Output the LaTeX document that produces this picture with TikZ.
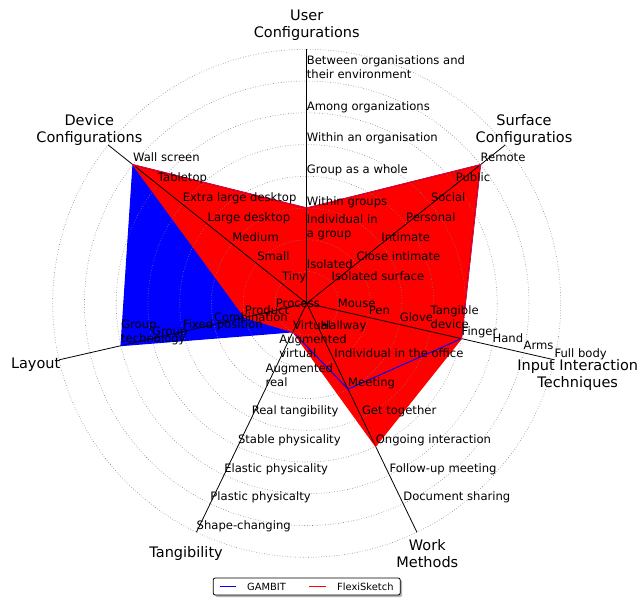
\documentclass[tikz,border=0pt]{standalone}
\usepackage{fontspec}
\setmainfont{DejaVu Sans}
\usetikzlibrary{shadows}

\begin{document}
\begin{tikzpicture}[x=1pt, y=1pt,
  lbl/.style={anchor=base west, inner sep=0pt, yshift=2.8pt, align=left, font=\fontsize{11.6}{14}\selectfont},
  ttl/.style={align=center, inner sep=0pt, font=\fontsize{14.5}{17}\selectfont},
  legtxt/.style={anchor=west, inner sep=0pt, font=\fontsize{9.9}{12}\selectfont},
  ring/.style={gray, dotted, line width=0.6pt},
  spoke/.style={black, line width=0.8pt}]
 \useasboundingbox (-306.7,-294.7) rectangle (332.3,303.3);
 % points of every level on the seven axes
 \foreach \ang [count=\i] in {90,38.571,-12.857,-64.286,-115.714,-167.143,141.429}
  \foreach \k in {0,...,8} \coordinate (a\i-\k) at (\ang:\k*31.75);
 % areas
 \fill[blue] (a7-7) -- (a6-6) -- (a5-1) -- (a4-3) -- (a3-5) -- (a2-7) -- (a1-3) -- cycle;
 \fill[red] (a1-3) -- (a2-7) -- (a3-5) -- (a4-5) -- (a5-1) -- (a6-2) -- (a7-7) -- cycle;
 % grid
 \foreach \k in {1,...,8} \draw[ring] (a1-0) circle (\k*31.75);
 \foreach \i in {1,...,7} \draw[spoke] (a\i-0) -- (a\i-8);
 % outlines
 \draw[blue, line width=1pt] (a7-7) -- (a6-6) -- (a5-1) -- (a4-3) -- (a3-5) -- (a2-7) -- (a1-3) -- cycle;
 \draw[red, line width=1pt] (a1-3) -- (a2-7) -- (a3-5) -- (a4-5) -- (a5-1) -- (a6-2) -- (a7-7) -- cycle;
 % level labels
 \foreach \txt [count=\k] in {Isolated, {Individual in\\a group}, Within groups, Group as a whole, Within an organisation, Among organizations, {Between organisations and\\their environment}}
  \node[lbl] (usr\k) at (a1-\k) {\txt};
 \foreach \txt [count=\k] in {Isolated surface, Close intimate, Intimate, Personal, Social, Public, Remote}
  \node[lbl] (srf\k) at (a2-\k) {\txt};
 \foreach \txt [count=\k] in {Mouse, Pen, Glove, {Tangible\\device}, Finger, Hand, Arms, Full body}
  \node[lbl] (inp\k) at (a3-\k) {\txt};
 \foreach \txt [count=\k] in {Hallway, Individual in the office, Meeting, Get together, Ongoing interaction, Follow-up meeting, Document sharing}
  \node[lbl] (wrk\k) at (a4-\k) {\txt};
 \foreach \txt [count=\k] in {Virtual, {Augmented\\virtual}, {Augmented\\real}, Real tangibility, Stable physicality, Elastic physicality, Plastic physicalty, Shape-changing}
  \node[lbl] (tng\k) at (a5-\k) {\txt};
 \foreach \txt [count=\k] in {Process, Product, Combination, Fixed position, Group, {Group\\technology}}
  \node[lbl] (lay\k) at (a6-\k) {\txt};
 \foreach \txt [count=\k] in {Tiny, Small, Medium, Large desktop, Extra large desktop, Tabletop, Wall screen}
  \node[lbl] (dev\k) at (a7-\k) {\txt};
 % axis titles
 \foreach \ang/\txt [count=\i] in {90/{User\\Configurations}, 38.571/{Surface\\Configuratios}, -64.286/{Work\\Methods}, -115.714/Tangibility, -167.143/Layout, 141.429/{Device\\Configurations}}
  \node[ttl] (ttl\i) at (\ang:278) {\txt};
 \node[ttl, yshift=-10pt] (ttlinp) at (-12.857:278) {Input Interaction\\Techniques};
 % legend
 \node[draw, fill=white, rounded corners=2pt, line width=0.8pt, minimum width=187pt, minimum height=17pt, inner sep=0pt,
   drop shadow={shadow xshift=2pt, shadow yshift=-2pt, opacity=0.6}] (leg) at (0,-283.2) {};
 \coordinate (gmb1) at (-86.7,-283.2);
 \coordinate (gmb2) at (-70.7,-283.2);
 \coordinate (flx1) at (2.3,-283.2);
 \coordinate (flx2) at (19.3,-283.2);
 \draw[blue, line width=1pt] (gmb1) -- (gmb2);
 \draw[red, line width=1pt] (flx1) -- (flx2);
 \node[legtxt] (gmbtxt) at (-59.7,-283.2) {GAMBIT};
 \node[legtxt] (flxtxt) at (30.3,-283.2) {FlexiSketch};
\end{tikzpicture}
\end{document}
